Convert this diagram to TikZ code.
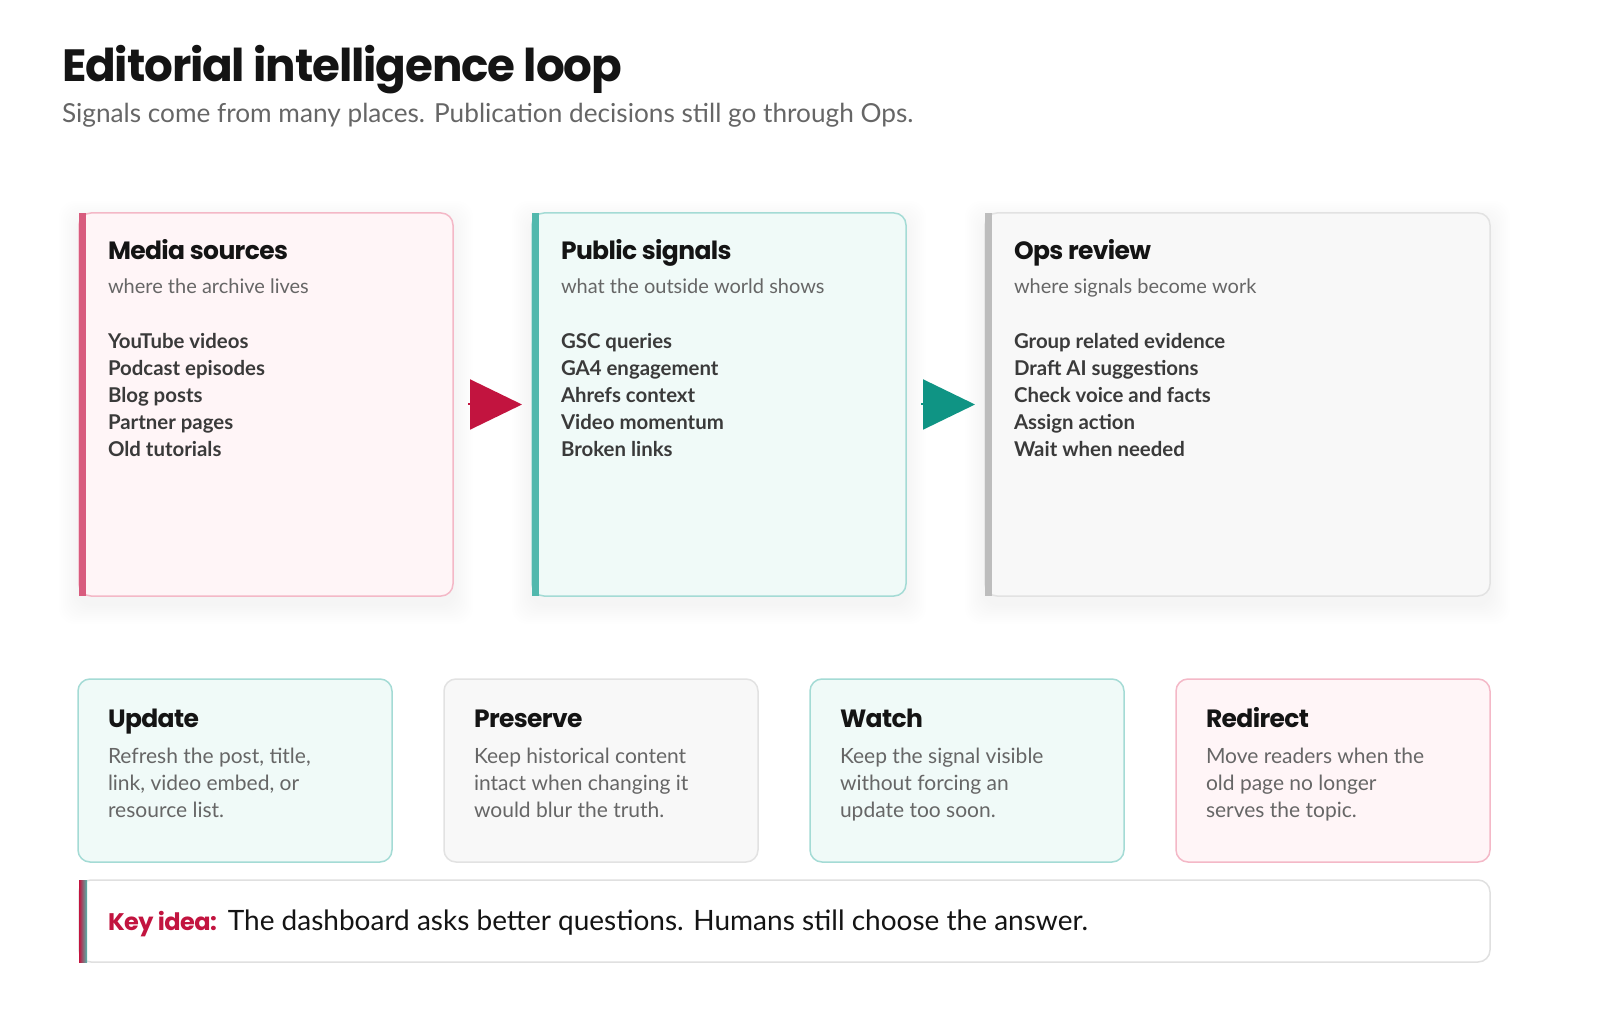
\documentclass[tikz,border=0pt]{standalone}
\usepackage{fontspec}
\setmainfont{Lato}
\newfontfamily\headfont[LetterSpace=-2.5]{Poppins}
\usetikzlibrary{positioning,arrows.meta,backgrounds}
\definecolor{ink}{HTML}{141414}
\definecolor{muted}{HTML}{666666}
\definecolor{itemink}{HTML}{3A3A3A}
\definecolor{pinkfill}{HTML}{FFF5F7}
\definecolor{pinkline}{HTML}{F4B8C7}
\definecolor{pinkbar}{HTML}{D85C7E}
\definecolor{tealfill}{HTML}{F0FAF8}
\definecolor{tealline}{HTML}{A4DBD5}
\definecolor{tealbar}{HTML}{52B8AD}
\definecolor{grayfill}{HTML}{F8F8F8}
\definecolor{grayline}{HTML}{E2E2E2}
\definecolor{graybar}{HTML}{BDBDBD}
\definecolor{keyred}{HTML}{C2143F}
\definecolor{keyteal}{HTML}{0F9484}
\definecolor{keyline}{HTML}{E0E0E0}

\begin{document}
\begin{tikzpicture}[x=0.5pt, y=-0.5pt, outer sep=0pt,
    card/.style={rectangle, rounded corners=6pt, line width=0.75pt, anchor=north west},
    topcard/.style={card, minimum width=187pt, minimum height=191.5pt},
    smallcard/.style={card, minimum width=157pt, minimum height=91.5pt},
    cardhead/.style={anchor=base west, inner sep=0pt, font=\headfont\bfseries\fontsize{12.5}{15}\selectfont, text=ink},
    cardsub/.style={anchor=base west, inner sep=0pt, font=\fontsize{10}{12}\selectfont, text=muted},
    carditem/.style={anchor=base west, inner sep=0pt, font=\bfseries\fontsize{10.2}{12}\selectfont, text=itemink},
    carddesc/.style={anchor=base west, inner sep=0pt, font=\fontsize{10.5}{12}\selectfont, text=muted},
    flow/.style={line width=1pt, shorten <=7.5pt, shorten >=5pt, -{Triangle[length=26pt,width=25pt]}}]
    \useasboundingbox (0,0) rectangle (1600,1031);

    % heading
    \node[anchor=base west, inner sep=0pt, font=\headfont\bfseries\fontsize{22.6}{27}\selectfont, text=ink] (title) at (62,82) {Editorial intelligence loop};
    \node[anchor=base west, inner sep=0pt, font=\fontsize{13.1}{15}\selectfont, text=muted] (lede) at (62,123) {Signals come from many places. Publication decisions still go through Ops.};

    % three stages
    \node[topcard, fill=pinkfill, draw=pinkline] (media) at (79,213) {};
    \fill[pinkbar] (media.north west) rectangle ([xshift=3.5pt]media.south west);
    \node[cardhead] (mediahead) at ([shift={(29,47)}]media.north west) {Media sources};
    \node[cardsub] (mediasub) at ([shift={(29,81)}]media.north west) {where the archive lives};
    \foreach \txt [count=\i] in {YouTube videos, Podcast episodes, Blog posts, Partner pages, Old tutorials}
        \node[carditem] (mediaitem\i) at ([shift={(29,109+27*\i)}]media.north west) {\txt};

    \node[topcard, fill=tealfill, draw=tealline] (signals) at (532,213) {};
    \fill[tealbar] (signals.north west) rectangle ([xshift=3.5pt]signals.south west);
    \node[cardhead] (signalshead) at ([shift={(29,47)}]signals.north west) {Public signals};
    \node[cardsub] (signalssub) at ([shift={(29,81)}]signals.north west) {what the outside world shows};
    \foreach \txt [count=\i] in {GSC queries, GA4 engagement, Ahrefs context, Video momentum, Broken links}
        \node[carditem] (signalsitem\i) at ([shift={(29,109+27*\i)}]signals.north west) {\txt};

    \node[topcard, minimum width=252.5pt, fill=grayfill, draw=grayline] (ops) at (985,213) {};
    \fill[graybar] (ops.north west) rectangle ([xshift=3.5pt]ops.south west);
    \node[cardhead] (opshead) at ([shift={(29,47)}]ops.north west) {Ops review};
    \node[cardsub] (opssub) at ([shift={(29,81)}]ops.north west) {where signals become work};
    \foreach \txt [count=\i] in {Group related evidence, Draft AI suggestions, Check voice and facts, Assign action, Wait when needed}
        \node[carditem] (opsitem\i) at ([shift={(29,109+27*\i)}]ops.north west) {\txt};

    % soft shadows behind the stages
    \begin{pgfonlayer}{background}
        \fill[white] (0,0) rectangle (1600,1031);
        \foreach \n in {media,signals,ops}
            \foreach \s in {2,4,...,20}
                \fill[black, opacity=0.005, rounded corners=8pt] ([shift={(-\s,-\s+8)}]\n.north west) rectangle ([shift={(\s,\s+8)}]\n.south east);
    \end{pgfonlayer}

    \draw[flow, keyred] (media) -- (signals);
    \draw[flow, keyteal] (signals) -- (ops);

    % outcomes
    \foreach \x/\name/\fillc/\linec/\head/\la/\lb/\lc in {
        78/update/tealfill/tealline/Update/{Refresh the post, title,}/{link, video embed, or}/{resource list.},
        444/preserve/grayfill/grayline/Preserve/{Keep historical content}/{intact when changing it}/{would blur the truth.},
        810/watch/tealfill/tealline/Watch/{Keep the signal visible}/{without forcing an}/{update too soon.},
        1176/redirect/pinkfill/pinkline/Redirect/{Move readers when the}/{old page no longer}/{serves the topic.}} {
        \node[smallcard, fill=\fillc, draw=\linec] (\name) at (\x,679) {};
        \node[cardhead] (\name head) at ([shift={(30,48)}]\name.north west) {\head};
        \node[carddesc] (\name a) at ([shift={(30,84)}]\name.north west) {\la};
        \node[carddesc] (\name b) at ([shift={(30,111)}]\name.north west) {\lb};
        \node[carddesc] (\name c) at ([shift={(30,138)}]\name.north west) {\lc};
    }

    % key idea
    \node[card, minimum width=705.5pt, minimum height=41pt, fill=white, draw=keyline] (keybox) at (79,880) {};
    \shade[left color=keyred, right color=tealbar] (keybox.north west) rectangle ([xshift=4pt]keybox.south west);
    \node[anchor=base west, inner sep=0pt, font=\headfont\bfseries\fontsize{12}{15}\selectfont, text=keyred] (keylabel) at ([shift={(29,50)}]keybox.north west) {Key idea:};
    \node[right=5.5pt of keylabel.base east, anchor=base west, inner sep=0pt, font=\fontsize{14}{16}\selectfont, text=ink] (keytext) {The dashboard asks better questions. Humans still choose the answer.};
\end{tikzpicture}
\end{document}
